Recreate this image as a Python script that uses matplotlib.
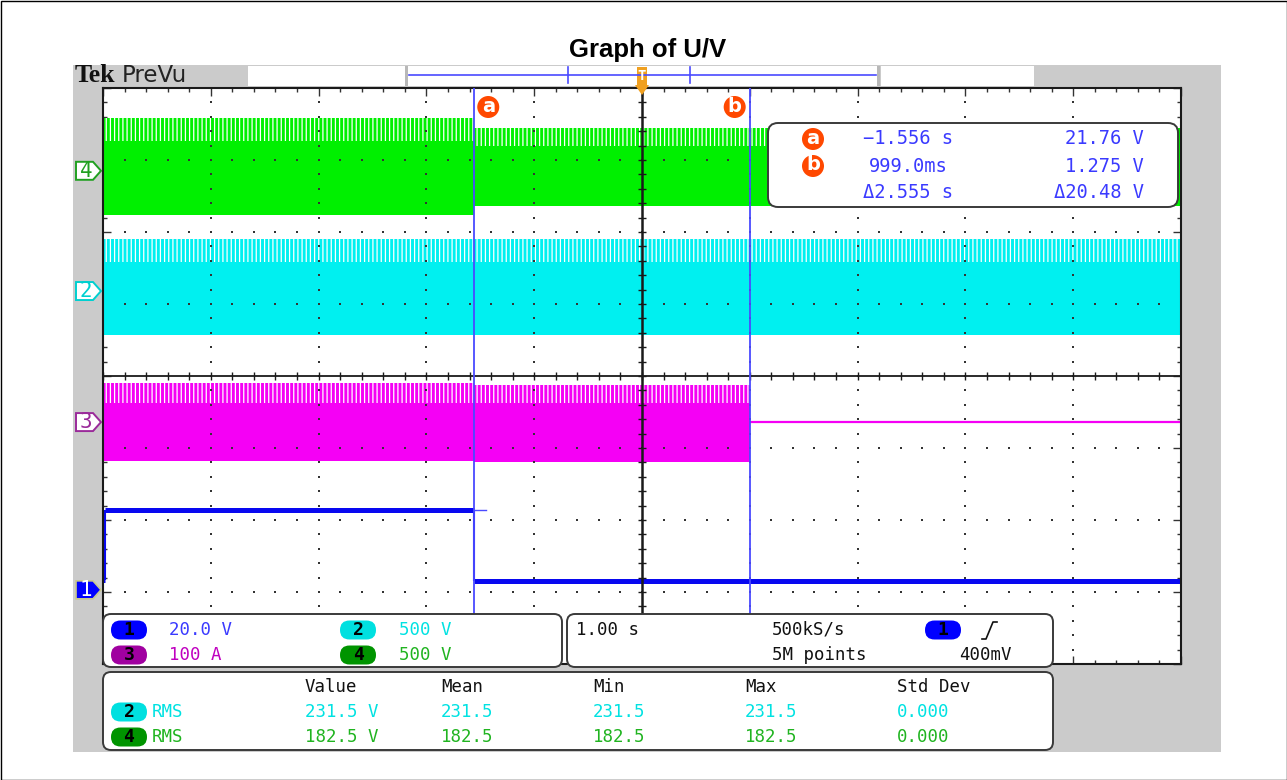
import matplotlib
matplotlib.use('Agg')
import matplotlib.pyplot as plt
from matplotlib.patches import FancyBboxPatch, Rectangle, Polygon, Circle
from matplotlib.ticker import MultipleLocator
import numpy as np

# ---------------- data (time in s, amplitudes in screen divisions) ----------------
time_range = [-5.0, 5.0]                 # 1.00 s/div, 10 divisions
cursor_times = [-1.556, 0.999]           # cursor a, cursor b
cursor_labels = ['a', 'b']

ch4_edges = [-5.0, -1.556, 5.0]
ch4_peak = [3.58, 3.44]
ch4_top = [3.28, 3.22]
ch4_low = [2.24, 2.36]

ch2_edges = [-5.0, 5.0]
ch2_peak = [1.90]
ch2_top = [1.61]
ch2_low = [0.57]

ch3_edges = [-5.0, -1.556, 0.999]
ch3_peak = [-0.10, -0.12]
ch3_top = [-0.36, -0.36]
ch3_low = [-1.18, -1.20]
ch3_after_t = [0.999, 5.0]
ch3_after_v = [-0.64, -0.64]

ch1_t = [-5.0, -4.985, -4.985, -1.556, -1.556, 5.0]
ch1_v = [-2.83, -2.83, -1.855, -1.855, -2.85, -2.85]
ch1_tail_t = [-1.556, -1.45]
ch1_tail_v = [-1.855, -1.855]

channel_ids = ['4', '2', '3', '1']
channel_offsets = [2.85, 1.18, -0.64, -2.97]

readout_time = ['\u22121.556 s', '999.0ms', '\u03942.555 s']
readout_volt = ['21.76 V', '1.275 V', '\u039420.48 V']

scale_ids = ['1', '3', '2', '4']
scale_text = ['20.0 V', '100 A', '500 V', '500 V']
horiz_text = ['1.00 s', '500kS/s', '5M points', '400mV']

meas_headers = ['Value', 'Mean', 'Min', 'Max', 'Std Dev']
meas_ids = ['2', '4']
meas_rows = [['231.5 V', '231.5', '231.5', '231.5', '0.000'],
             ['182.5 V', '182.5', '182.5', '182.5', '0.000']]

# ---------------- styles ----------------
GREEN_TR, CYAN_TR, MAG_TR, BLUE_TR = '#00f000', '#00f0f0', '#f500f5', '#0808f0'
CURSOR = '#4a4aff'
TXT = {'1': '#3a3aff', '2': '#00e2e2', '3': '#c000c0', '4': '#20b420'}
PILL = {'1': '#0000ff', '2': '#00e0e0', '3': '#a000a0', '4': '#009400'}
MARK_EDGE = {'4': '#20a020', '2': '#00d0d0', '3': '#9a2a9a', '1': '#202080'}
ORANGE = '#ff4800'
TRIG = '#f0a020'
GRAY = '#cbcbcb'
MONO = 'DejaVu Sans Mono'

plt.rcParams['hatch.linewidth'] = 0.9

W, H = 1287, 780
fig = plt.figure(figsize=(W / 100, H / 100), dpi=100)
fig.patch.set_facecolor('white')

GL, GR, GT, GB = 103, 1181, 88, 664


def px(t):
    return GL + (t - time_range[0]) / (time_range[1] - time_range[0]) * (GR - GL)


def py(d):
    return (GT + GB) / 2 - d * (GB - GT) / 8


bg = fig.add_axes([0, 0, 1, 1], zorder=0)
bg.set_xlim(0, W); bg.set_ylim(H, 0); bg.axis('off')
ax = fig.add_axes([GL / W, (H - GB) / H, (GR - GL) / W, (GB - GT) / H], zorder=1)
fg = fig.add_axes([0, 0, 1, 1], zorder=2)
fg.set_xlim(0, W); fg.set_ylim(H, 0); fg.axis('off')

# ---------------- background / frame ----------------
bg.add_patch(Rectangle((73, 65), 1148, 687, fc=GRAY, ec='none'))
fg.add_patch(Rectangle((0.5, 0.5), W - 1, H - 1, fc='none', ec='black', lw=1.0))
fg.text(648, 50, 'Graph of U/V', ha='center', va='center', fontsize=18.5,
        fontweight='bold', family='Liberation Sans')

# header bar
fg.text(75, 76, 'Tek', ha='left', va='center', fontsize=18.5, fontweight='bold',
        family='Liberation Serif', color='#111111')
fg.text(122, 76, 'PreVu', ha='left', va='center', fontsize=16.5,
        family='Liberation Sans Narrow', color='#222222')
fg.add_patch(Rectangle((248, 66), 156, 20, fc='white', ec='none'))
fg.add_patch(Rectangle((404, 66), 476, 20, fc='white', ec='none'))
fg.add_patch(Rectangle((881, 66), 153, 20, fc='white', ec='none'))
for xb in (405, 877):
    fg.add_patch(Rectangle((xb, 66), 3, 20, fc='#b8b8b8', ec='none'))
fg.plot([409, 876], [75, 75], color=CURSOR, lw=1.2)
for xb in (568, 690):
    fg.plot([xb, xb], [67, 83], color=CURSOR, lw=1.2)
# trigger marker
xt = px(0)
fg.add_patch(Rectangle((xt - 5, 67), 10, 18, fc=TRIG, ec='none'))
fg.text(xt, 76, 'T', ha='center', va='center', fontsize=10, color='white',
        fontweight='bold', family=MONO)
fg.add_patch(Polygon([(xt - 7, 85), (xt + 7, 85), (xt, 95)], closed=True, fc=TRIG, ec='none'))

# ---------------- graticule ----------------
ax.set_xlim(*time_range)
ax.set_ylim(-4, 4)
ax.set_facecolor('white')
for s in ax.spines.values():
    s.set_color('#1a1a1a'); s.set_linewidth(1.5)
ax.xaxis.set_major_locator(MultipleLocator(1)); ax.xaxis.set_minor_locator(MultipleLocator(0.2))
ax.yaxis.set_major_locator(MultipleLocator(1)); ax.yaxis.set_minor_locator(MultipleLocator(0.2))
ax.tick_params(which='both', direction='in', top=True, right=True, bottom=True, left=True,
               labelbottom=False, labelleft=False, color='#333333', width=1)
ax.tick_params(which='major', length=6)
ax.tick_params(which='minor', length=3)

fine_x = np.arange(-5, 5.001, 0.2)
fine_y = np.arange(-4, 4.001, 0.2)
maj_x = [v for v in range(-4, 5) if v != 0]
maj_y = [v for v in range(-3, 4) if v != 0]
gx, gy = np.meshgrid(maj_x, fine_y)
ax.scatter(gx.ravel(), gy.ravel(), s=1.6, marker='s', color='#333333', lw=0, zorder=2.5)
gx, gy = np.meshgrid(fine_x, maj_y)
ax.scatter(gx.ravel(), gy.ravel(), s=1.6, marker='s', color='#333333', lw=0, zorder=2.5)
ax.axhline(0, color='#1a1a1a', lw=1.3, zorder=2.6)
ax.axvline(0, color='#1a1a1a', lw=1.8, zorder=2.6)
ax.scatter(fine_x, np.zeros_like(fine_x), marker='|', s=30, color='#1a1a1a', lw=1, zorder=2.6)
ax.scatter(np.zeros_like(fine_y), fine_y, marker='_', s=30, color='#1a1a1a', lw=1, zorder=2.6)

# ---------------- traces ----------------


def band(edges, peak, top, low, color):
    for i in range(len(peak)):
        xs = [edges[i], edges[i + 1]]
        ax.fill_between(xs, low[i], top[i], color=color, lw=0, zorder=2)
        ax.fill_between(xs, top[i] - 0.02, peak[i], facecolor=color, edgecolor='white',
                        hatch='||||', lw=0, zorder=2)


band(ch4_edges, ch4_peak, ch4_top, ch4_low, GREEN_TR)
band(ch2_edges, ch2_peak, ch2_top, ch2_low, CYAN_TR)
band(ch3_edges, ch3_peak, ch3_top, ch3_low, MAG_TR)
ax.plot(ch3_after_t, ch3_after_v, color=MAG_TR, lw=1.6, zorder=2)

# channel 1: thick flat levels, thin transitions
for i in range(len(ch1_t) - 1):
    seg_t = ch1_t[i:i + 2]
    seg_v = ch1_v[i:i + 2]
    flat = seg_v[0] == seg_v[1]
    ax.plot(seg_t, seg_v, color=BLUE_TR, lw=3.6 if flat else 1.5,
            solid_capstyle='butt', zorder=2.2)
ax.plot(ch1_tail_t, ch1_tail_v, color=CURSOR, lw=1.0, zorder=2.2)

for t in cursor_times:
    ax.axvline(t, color=CURSOR, lw=1.3, zorder=3)

# cursor flags
for t, lab, off in zip(cursor_times, cursor_labels, (14, -15)):
    fg.add_patch(Circle((px(t) + off, 107), 11, fc=ORANGE, ec='none'))
    fg.text(px(t) + off, 106, lab, ha='center', va='center', fontsize=14,
            fontweight='bold', color='white', family='DejaVu Sans')

# channel markers on the left
for cid, off in zip(channel_ids, channel_offsets):
    yc = py(off)
    pts = [(76, yc - 9), (93, yc - 9), (101, yc), (93, yc + 9), (76, yc + 9)]
    if cid == '1':
        fg.add_patch(Polygon(pts, closed=True, fc=PILL['1'], ec='#c8c890', lw=1.2))
        fg.text(86, yc, cid, ha='center', va='center', fontsize=15, color='white', family=MONO)
    else:
        fg.add_patch(Polygon(pts, closed=True, fc='white', ec=MARK_EDGE[cid], lw=1.4))
        fg.text(86, yc, cid, ha='center', va='center', fontsize=15, color=MARK_EDGE[cid], family=MONO)

# ---------------- cursor readout ----------------
fg.add_patch(FancyBboxPatch((768, 123), 410, 84, boxstyle='round,pad=0,rounding_size=10',
                            fc='white', ec='#3a3a3a', lw=1.4))
rows_y = [139, 166, 193]
for i, lab in enumerate(cursor_labels):
    fg.add_patch(Circle((813, rows_y[i]), 11, fc=ORANGE, ec='none'))
    fg.text(813, rows_y[i] - 1, lab, ha='center', va='center', fontsize=14,
            fontweight='bold', color='white', family='DejaVu Sans')
for i in range(3):
    fg.text(908, rows_y[i], readout_time[i], ha='center', va='center', fontsize=13.5,
            color=TXT['1'], family=MONO)
    fg.text(1144, rows_y[i], readout_volt[i], ha='right', va='center', fontsize=13.5,
            color=TXT['1'], family=MONO)

# ---------------- bottom readouts ----------------


def rbox(x0, y0, w, h):
    fg.add_patch(FancyBboxPatch((x0, y0), w, h, boxstyle='round,pad=0,rounding_size=8',
                                fc='white', ec='#3a3a3a', lw=1.4))


def pill(cx, cy, cid):
    fg.add_patch(FancyBboxPatch((cx - 18, cy - 9.5), 36, 19,
                                boxstyle='round,pad=0,rounding_size=9.5',
                                fc=PILL[cid], ec='none'))
    fg.text(cx, cy, cid, ha='center', va='center', fontsize=13, fontweight='bold',
            color='black', family=MONO)


bg.add_patch(Rectangle((103, 612), 1078, 52, fc='white', ec='none'))
rbox(103, 614, 459, 53)
rbox(567, 614, 486, 53)
rbox(103, 672, 950, 78)

sc_pos = [(129, 630, 169), (129, 655, 169), (358, 630, 399), (358, 655, 399)]
for cid, txt, (cx, cy, tx) in zip(scale_ids, scale_text, sc_pos):
    pill(cx, cy, cid)
    fg.text(tx, cy, txt, ha='left', va='center', fontsize=12.5, color=TXT[cid], family=MONO)

fg.text(576, 630, horiz_text[0], ha='left', va='center', fontsize=12.5, color='#111111', family=MONO)
fg.text(772, 630, horiz_text[1], ha='left', va='center', fontsize=12.5, color='#111111', family=MONO)
fg.text(772, 655, horiz_text[2], ha='left', va='center', fontsize=12.5, color='#111111', family=MONO)
fg.text(1012, 655, horiz_text[3], ha='right', va='center', fontsize=12.5, color='#111111', family=MONO)
pill(943, 630, '1')
fg.plot([982, 986, 993, 997], [639, 639, 622, 622], color='#111111', lw=1.2)

col_x = [305, 441, 593, 745, 897]
for hx, htxt in zip(col_x, meas_headers):
    fg.text(hx, 687, htxt, ha='left', va='center', fontsize=12.5, color='#111111', family=MONO)
for r, (cid, row) in enumerate(zip(meas_ids, meas_rows)):
    yy = 712 + 25 * r
    pill(129, yy, cid)
    fg.text(152, yy, 'RMS', ha='left', va='center', fontsize=12.5, color=TXT[cid], family=MONO)
    for hx, val in zip(col_x, row):
        fg.text(hx, yy, val, ha='left', va='center', fontsize=12.5, color=TXT[cid], family=MONO)

fig.savefig('out.png', dpi=100, facecolor='white')
